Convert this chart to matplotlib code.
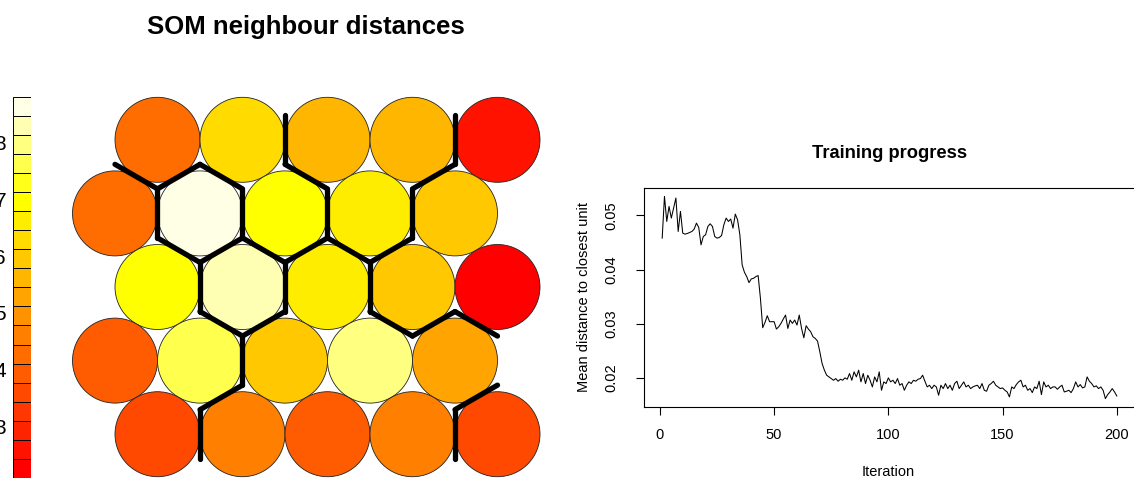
import colorsys
import matplotlib.pyplot as plt
import numpy as np
from matplotlib.patches import Circle

plt.rcParams['font.family'] = ['Liberation Sans', 'DejaVu Sans']

# neighbour distance of each SOM unit, rows listed top to bottom
unit_dist = [
    [4.3, 6.3, 5.6, 5.6, 2.6],
    [4.3, 8.8, 7.0, 6.6, 5.9],
    [7.0, 8.3, 6.6, 6.0, 2.1],
    [3.9, 7.6, 5.9, 8.0, 5.3],
    [3.6, 4.6, 3.9, 4.6, 3.6],
]
# cluster of each unit (same layout), boundaries drawn between clusters
clusters = [
    [1, 1, 2, 2, 3],
    [4, 5, 1, 2, 3],
    [4, 6, 7, 3, 3],
    [4, 4, 7, 7, 7],
    [4, 7, 7, 7, 8],
]
cbar_ticks = [3, 4, 5, 6, 7, 8]
n_colors = 20

# training progress: mean distance to closest unit per iteration
mean_dist = [
    0.04581, 0.05352, 0.04889, 0.05167, 0.04951, 0.05136, 0.05322, 0.04704, 0.05075, 0.04673,
    0.04655, 0.04667, 0.04686, 0.04704, 0.04748, 0.04859, 0.04778, 0.04457, 0.04612, 0.04643,
    0.04797, 0.04846, 0.04797, 0.04612, 0.04581, 0.04593, 0.04630, 0.04828, 0.04951, 0.04889,
    0.04933, 0.04766, 0.05025, 0.04920, 0.04643, 0.04087, 0.03951, 0.03871, 0.03760, 0.03828,
    0.03840, 0.03871, 0.03890, 0.03470, 0.02927, 0.03025, 0.03149, 0.03038, 0.03038, 0.03038,
    0.02902, 0.02945, 0.03007, 0.03087, 0.03161, 0.02914, 0.03069, 0.03007, 0.03069, 0.02976,
    0.03161, 0.02914, 0.02741, 0.02964, 0.02902, 0.02853, 0.02760, 0.02729, 0.02680, 0.02482,
    0.02266, 0.02143, 0.02050, 0.02019, 0.01988, 0.01957, 0.01988, 0.01939, 0.01976, 0.01957,
    0.02001, 0.01976, 0.02081, 0.01957, 0.02112, 0.02019, 0.02143, 0.01927, 0.02081, 0.01896,
    0.02050, 0.01957, 0.01834, 0.02019, 0.01927, 0.02112, 0.01772, 0.01927, 0.01896, 0.02001,
    0.01927, 0.01957, 0.01896, 0.01988, 0.01865, 0.01896, 0.01772, 0.01865, 0.01927, 0.01896,
    0.01957, 0.01939, 0.01976, 0.01988, 0.02050, 0.01939, 0.01834, 0.01865, 0.01803, 0.01865,
    0.01834, 0.01680, 0.01865, 0.01803, 0.01896, 0.01803, 0.01865, 0.01772, 0.01896, 0.01939,
    0.01803, 0.01865, 0.01927, 0.01834, 0.01865, 0.01803, 0.01834, 0.01853, 0.01865, 0.01803,
    0.01896, 0.01772, 0.01754, 0.01865, 0.01896, 0.01939, 0.01865, 0.01834, 0.01803, 0.01816,
    0.01772, 0.01741, 0.01649, 0.01834, 0.01803, 0.01877, 0.01927, 0.01957, 0.01834, 0.01865,
    0.01772, 0.01803, 0.01729, 0.01834, 0.01803, 0.01939, 0.01692, 0.01927, 0.01834, 0.01865,
    0.01803, 0.01834, 0.01834, 0.01791, 0.01834, 0.01865, 0.01741, 0.01754, 0.01772, 0.01729,
    0.01803, 0.01927, 0.01834, 0.01877, 0.01816, 0.01834, 0.02019, 0.01939, 0.01896, 0.01834,
    0.01853, 0.01803, 0.01834, 0.01772, 0.01618, 0.01692, 0.01741, 0.01803, 0.01741, 0.01667,
]
iterations = np.arange(1, len(mean_dist) + 1)
x_ticks = [0, 50, 100, 150, 200]
y_ticks = [0.02, 0.03, 0.04, 0.05]


def heat_colors(n):
    """same palette as R heat.colors(n)"""
    j = n // 4
    i = n - j
    cols = []
    for h in np.linspace(0, 1 / 6, i):
        cols.append(colorsys.hsv_to_rgb(h, 1, 1))
    for s in np.linspace(1 - 1 / (2 * j), 1 / (2 * j), j):
        cols.append(colorsys.hsv_to_rgb(1 / 6, s, 1))
    return cols


W, H = 1134, 479
fig = plt.figure(figsize=(W / 100, H / 100), dpi=100)


def px_axes(left, top, right, bottom):
    return fig.add_axes([left / W, 1 - bottom / H, (right - left) / W, (bottom - top) / H])


palette = heat_colors(n_colors)
vals = np.array(unit_dist)
lo, hi = vals.min(), vals.max()
bins = np.clip(((vals - lo) / (hi - lo) * n_colors).astype(int), 0, n_colors - 1)

# unit centres on the hex grid
n_rows, n_cols = vals.shape
centres = {}
for r in range(n_rows):
    for c in range(n_cols):
        centres[(r, c)] = (c + 0.5 * (r % 2 == 0), (n_rows - 1 - r) * np.sqrt(3) / 2)

# --- SOM map
ax = px_axes(30, 60, 625, 479)
ax.set_xlim(-1, 6)
ax.set_ylim(-0.527, 4.403)
ax.axis('off')
for (r, c), (x, y) in centres.items():
    ax.add_patch(Circle((x, y), 0.5, facecolor=palette[bins[r, c]],
                        edgecolor='#222222', lw=0.6, clip_on=False))

keys = list(centres)
half = 0.5 / np.sqrt(3)
for a in range(len(keys)):
    for b in range(a + 1, len(keys)):
        p = np.array(centres[keys[a]])
        q = np.array(centres[keys[b]])
        d = q - p
        if np.hypot(*d) > 1.01:
            continue
        if clusters[keys[a][0]][keys[a][1]] == clusters[keys[b][0]][keys[b][1]]:
            continue
        m = (p + q) / 2
        nrm = np.array([-d[1], d[0]]) * half
        ax.plot([m[0] - nrm[0], m[0] + nrm[0]], [m[1] - nrm[1], m[1] + nrm[1]],
                color='black', lw=3.8, solid_capstyle='round', clip_on=False)

fig.text(306 / W, 1 - 27 / H, 'SOM neighbour distances', fontsize=18.5,
         fontweight='bold', ha='center', va='center')

# --- colour key
cax = px_axes(13, 96.7, 31, 478)
edges = np.linspace(lo, hi, n_colors + 1)
cax.bar(0, np.diff(edges), bottom=edges[:-1], width=1, color=palette,
        edgecolor='black', lw=0.7, align='center')
cax.set_xlim(-0.5, 0.5)
cax.set_ylim(lo, hi)
cax.set_xticks([])
cax.set_yticks(cbar_ticks)
cax.tick_params(axis='y', length=0, pad=5, labelsize=15)
for s in cax.spines.values():
    s.set_visible(False)

# --- training progress
ax2 = px_axes(644, 188.3, 1135, 406.7)
ax2.plot(iterations, mean_dist, color='black', lw=0.75)
xr = iterations.max() - iterations.min()
ax2.set_xlim(iterations.min() - 0.04 * xr, iterations.max() + 0.04 * xr)
yr = max(mean_dist) - min(mean_dist)
ax2.set_ylim(min(mean_dist) - 0.04 * yr, max(mean_dist) + 0.04 * yr)
ax2.set_xticks(x_ticks)
ax2.set_yticks(y_ticks)
ax2.set_yticklabels(['%.2f' % t for t in y_ticks], rotation=90, va='center')
ax2.tick_params(direction='out', length=5.5, width=0.8, labelsize=10.5)
ax2.tick_params(axis='x', pad=10)
ax2.tick_params(axis='y', pad=13)
for s in ax2.spines.values():
    s.set_linewidth(0.8)

fig.text(890 / W, 1 - 153 / H, 'Training progress', fontsize=13.2,
         fontweight='bold', ha='center', va='center')
fig.text(888 / W, 1 - 471.5 / H, 'Iteration', fontsize=10.5, ha='center', va='center')
fig.text(584 / W, 1 - 297 / H, 'Mean distance to closest unit', fontsize=10.5,
         rotation=90, ha='center', va='center')

fig.savefig('out.png', dpi=100)
